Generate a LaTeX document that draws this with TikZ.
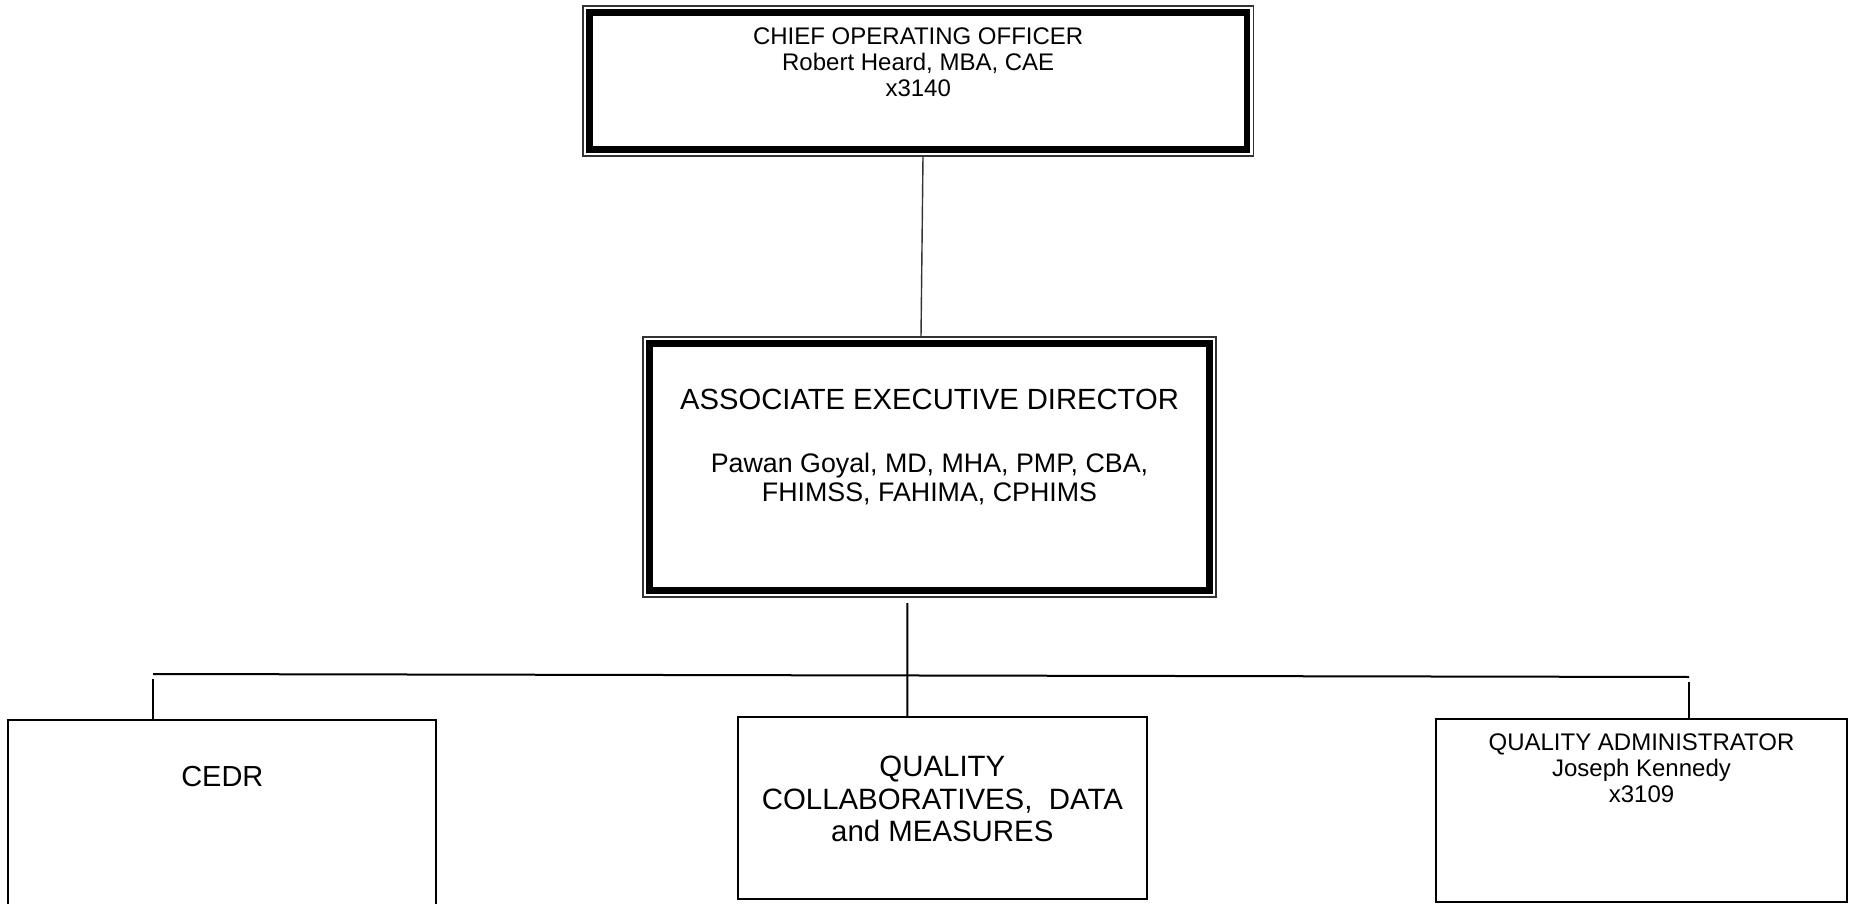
\documentclass[tikz,border=0pt]{standalone}
\usepackage{fontspec}
\setmainfont{Liberation Sans}
\usepackage{tikz}
\newcommand{\boxtext}[4]{\parbox[c][#1][t]{#2}{\centering\vspace*{#3}#4\par}}

\begin{document}
\begin{tikzpicture}[x=0.5pt,y=-0.5pt]
	\tikzset{headbox/.style = {draw, line width=3.3pt, inner sep=0pt, outer sep=0pt}}
	\tikzset{unitbox/.style = {draw, line width=1pt, inner sep=0pt, outer sep=0pt}}
	\tikzset{frame/.style = {line width=0.7pt, black!80}}
	\tikzset{link/.style = {line width=1pt}}

	\useasboundingbox (0,0) rectangle (1849,904);
	\clip (0,0) rectangle (1849,904);

	\node[headbox, font=\fontsize{12}{13}\selectfont] (coo) at (918.2,81)
		{\boxtext{68.5pt}{328.7pt}{7.8pt}{CHIEF OPERATING OFFICER\\Robert Heard, MBA, CAE\\x3140}};
	\node[headbox, font=\fontsize{14.6}{14.5}\selectfont] (aed) at (929.5,467)
		{\boxtext{123.3pt}{280pt}{22.5pt}{ASSOCIATE EXECUTIVE DIRECTOR\\[17.6pt]\fontsize{13.4}{14.2}\selectfont Pawan Goyal, MD, MHA, PMP, CBA,\\FHIMSS, FAHIMA, CPHIMS}};

	\node[unitbox, font=\fontsize{14.5}{16}\selectfont] (cedr) at (222.35,829.75)
		{\boxtext{110.25pt}{214.1pt}{23.4pt}{CEDR}};
	\node[unitbox, font=\fontsize{14.7}{16.2}\selectfont] (qcd) at (942.35,808)
		{\boxtext{91pt}{204.7pt}{19.6pt}{QUALITY\\COLLABORATIVES,~~DATA\\and MEASURES}};
	\node[unitbox, font=\fontsize{12}{13}\selectfont] (adm) at (1641.5,810.5)
		{\boxtext{91.5pt}{205.5pt}{7.6pt}{QUALITY ADMINISTRATOR\\Joseph Kennedy\\x3109}};

	\draw[frame] ([shift={(-3.3pt,3.3pt)}]coo.north west) rectangle ([shift={(3.3pt,-3.3pt)}]coo.south east);
	\draw[frame] ([shift={(-3.3pt,3.3pt)}]aed.north west) rectangle ([shift={(3.3pt,-3.3pt)}]aed.south east);

	\draw[frame] ([shift={(2.4pt,-3.3pt)}]coo.south) -- ([shift={(-4.25pt,3.3pt)}]aed.north);
	\draw[link] ([shift={(-11.1pt,-6.35pt)}]aed.south) -- ([xshift=-17.5pt]qcd.north);

	\coordinate (busL) at (153,674);
	\coordinate (busR) at (1689,677);
	\coordinate (tickL) at (153,679);
	\coordinate (tickR) at (1689,682);
	\draw[link] (busL) -- (busR);
	\draw[link] (tickL) -- (tickL |- cedr.north);
	\draw[link] (tickR) -- (tickR |- adm.north);
\end{tikzpicture}
\end{document}
